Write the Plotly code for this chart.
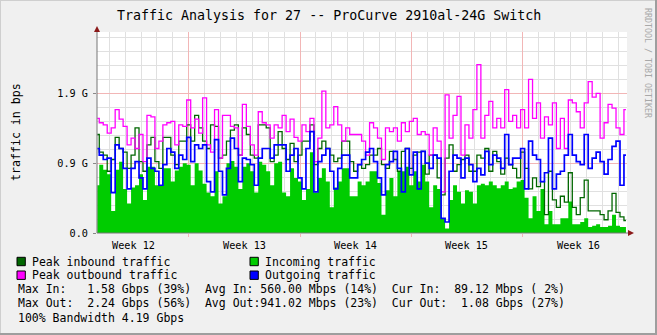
import plotly.graph_objects as go

# ---- data: 6-hourly samples, days counted from the start of week 12 ----
START_DAY = 1.25
STEP_DAYS = 0.25

# incoming traffic (area), Gbps
incoming = [
    0.65, 0.93, 0.86, 0.8, 0.3, 0.86, 0.97, 0.6, 0.4, 0.62, 0.65, 0.8, 0.45, 0.9, 0.9, 0.65, 0.65, 0.88, 0.88, 0.7, 0.85, 0.9, 0.95,
    0.93, 0.65, 0.95, 0.85, 0.67, 0.55, 0.5, 0.84, 0.4, 0.5, 0.95, 0.98, 0.9, 0.6, 0.9, 0.95, 0.84, 0.55, 0.97, 0.93, 0.84, 0.65,
    0.95, 0.97, 0.55, 0.5, 0.88, 0.75, 0.7, 0.45, 0.6, 1.1, 0.55, 0.75, 0.88, 0.7, 0.35, 0.62, 0.7, 0.88, 0.88, 0.5, 0.5, 0.7,
    0.65, 0.7, 0.84, 0.84, 0.68, 0.25, 0.58, 0.75, 0.5, 0.84, 0.84, 0.9, 0.65, 0.84, 0.7, 0.93, 0.7, 0.35, 0.65, 0.6, 0.2, 0.06,
    0.45, 0.65, 0.56, 0.4, 0.58, 0.56, 0.4, 0.65, 0.67, 0.65, 0.7, 0.65, 0.61, 0.65, 0.7, 0.6, 0.62, 0.7, 0.72, 0.48, 0.2, 0.5,
    0.3, 0.6, 0.12, 0.3, 0.12, 0.12, 0.2, 0.2, 0.43, 0.12, 0.12, 0.15, 0.2, 0.08, 0.1, 0.12, 0.08, 0.08, 0.1, 0.25, 0.1, 0.08, 0.08,
]

# outgoing traffic (line), Gbps
outgoing = [
    1.15, 1.06, 1.0, 1.02, 0.55, 1.2, 1.15, 0.88, 0.6, 0.88, 0.97, 0.75, 0.6, 1.02, 0.88, 0.84, 0.65, 0.93, 1.15, 1.1, 0.88, 1.06, 1.0,
    1.3, 0.97, 1.2, 1.15, 1.2, 0.7, 0.56, 1.27, 0.84, 0.52, 0.88, 1.29, 1.15, 0.7, 1.02, 1.0, 0.93, 0.65, 1.02, 1.15, 1.15, 1.02,
    1.2, 1.2, 1.2, 0.84, 1.06, 1.15, 0.75, 0.6, 1.15, 1.38, 0.56, 0.97, 1.06, 1.15, 0.84, 0.6, 0.88, 1.06, 1.06, 0.75, 0.75, 0.93,
    1.0, 1.1, 1.15, 0.97, 0.75, 0.52, 0.93, 0.97, 1.11, 0.88, 0.56, 1.15, 0.79, 1.1, 0.6, 1.11, 0.95, 0.88, 1.06, 1.02, 0.2, 0.15,
    0.84, 1.06, 1.02, 0.75, 1.02, 0.93, 0.7, 0.88, 0.79, 1.11, 0.93, 1.06, 1.02, 0.88, 1.34, 0.93, 1.02, 1.02, 1.15, 0.6, 1.25, 1.06,
    1.0, 0.7, 0.82, 1.29, 0.6, 0.8, 0.84, 1.06, 1.34, 1.06, 0.97, 0.93, 1.34, 0.88, 1.02, 1.1, 0.97, 0.8, 1.0, 1.18, 1.25, 0.65, 1.06,
]

# peak inbound traffic, Gbps
peak_in = [
    1.34, 1.1, 1.06, 0.84, 1.0, 1.3, 1.15, 1.1, 0.88, 1.06, 1.43, 0.97, 0.84, 1.2, 1.3, 0.97, 0.88, 1.3, 1.3, 1.06, 0.93, 1.25, 1.25,
    1.47, 1.25, 1.6, 1.43, 1.25, 1.15, 1.47, 1.45, 1.02, 1.06, 1.25, 1.4, 1.47, 1.06, 1.43, 1.34, 1.06, 1.02, 1.47, 1.47, 1.43, 0.97,
    1.06, 1.38, 1.15, 1.0, 1.22, 0.97, 1.06, 1.25, 1.25, 1.47, 0.93, 1.15, 1.25, 1.15, 1.06, 0.97, 1.02, 1.25, 1.25, 0.97, 0.84, 0.93,
    0.88, 0.93, 1.06, 1.06, 1.15, 0.93, 0.88, 1.11, 1.0, 0.84, 1.11, 1.15, 0.88, 1.06, 1.1, 1.11, 0.8, 1.06, 1.06, 0.75, 0.52, 1.02,
    1.2, 0.84, 0.93, 1.0, 1.06, 0.84, 0.84, 1.06, 1.02, 1.15, 0.84, 1.11, 0.97, 0.8, 1.02, 0.93, 0.88, 0.75, 1.1, 0.88, 0.6, 0.75,
    0.63, 0.7, 0.25, 0.84, 0.45, 0.35, 0.5, 0.42, 0.82, 0.35, 0.25, 0.48, 0.72, 0.3, 0.3, 0.3, 0.25, 0.18, 0.3, 0.54, 0.28, 0.22, 0.17,
]

# peak outbound traffic, Gbps
peak_out = [
    1.56, 1.5, 1.47, 1.36, 1.43, 1.68, 1.55, 1.45, 1.2, 1.29, 1.15, 1.34, 0.97, 1.6, 1.58, 1.15, 1.25, 1.47, 1.5, 1.52, 1.2, 1.47, 1.45,
    1.81, 1.43, 1.55, 1.36, 1.84, 1.2, 1.1, 1.68, 1.02, 1.6, 1.6, 1.45, 1.43, 1.06, 1.75, 1.45, 1.2, 1.06, 1.65, 1.5, 1.47, 1.29,
    1.47, 1.43, 1.6, 1.38, 1.55, 1.3, 1.25, 1.47, 1.38, 1.56, 0.97, 1.29, 1.93, 1.43, 1.47, 1.72, 1.47, 1.25, 1.43, 1.34, 1.34, 1.34,
    1.25, 1.06, 1.5, 1.43, 1.29, 1.0, 1.43, 1.38, 1.43, 1.25, 1.5, 1.38, 1.52, 1.56, 1.34, 1.38, 1.34, 1.06, 1.43, 1.25, 0.56, 1.88,
    1.29, 1.6, 1.86, 1.06, 1.47, 1.29, 1.68, 2.29, 1.29, 1.6, 1.79, 1.43, 1.56, 1.43, 1.95, 1.52, 1.6, 1.43, 1.68, 1.43, 2.09, 1.56,
    1.77, 1.29, 1.58, 1.47, 1.77, 1.15, 1.56, 1.15, 1.81, 1.77, 1.65, 1.43, 1.77, 2.06, 1.85, 1.9, 1.29, 1.5, 1.75, 1.7, 1.43, 1.34, 1.68,
]

days = [START_DAY + STEP_DAYS * i for i in range(len(incoming))]

week_numbers = [12, 13, 14, 15, 16]
week_boundaries = [7, 14, 21, 28]
y_major = [0.0, 0.95, 1.9]
y_major_text = ["0.0", "0.9 G", "1.9 G"]

title = "Traffic Analysis for 27 -- ProCurve 2910al-24G Switch"
legend_rows = [
    "Max In:   1.58 Gbps (39%)  Avg In: 560.00 Mbps (14%)  Cur In:  89.12 Mbps ( 2%)",
    "Max Out:  2.24 Gbps (56%)  Avg Out:941.02 Mbps (23%)  Cur Out:  1.08 Gbps (27%)",
    "100% Bandwidth 4.19 Gbps",
]

# ---- colours ----
C_IN = "#00cc00"
C_OUT = "#0000ff"
C_PEAK_IN = "#006600"
C_PEAK_OUT = "#ff00ff"
GRID = "#e0e0e0"
MGRID = "#f2b6b6"
BACK = "#f0f0f0"
FONT = "DejaVu Sans Mono"

W, H = 657, 335
ML, MR, MT, MB = 97, 30, 32, 102
PW, PH = W - ML - MR, H - MT - MB


def px(x):
    return (x - ML) / PW


def py(y):
    return (H - MB - y) / PH


def nb(s):
    return s.replace(" ", "\u00a0")


fig = go.Figure()
fig.add_trace(go.Scatter(x=days, y=incoming, mode="lines", line=dict(width=0, shape="hvh"),
                         fill="tozeroy", fillcolor=C_IN, hoverinfo="skip"))
fig.add_trace(go.Scatter(x=days, y=peak_in, mode="lines",
                         line=dict(color=C_PEAK_IN, width=1.3, shape="hvh")))
fig.add_trace(go.Scatter(x=days, y=peak_out, mode="lines",
                         line=dict(color=C_PEAK_OUT, width=1.3, shape="hvh")))
fig.add_trace(go.Scatter(x=days, y=outgoing, mode="lines",
                         line=dict(color=C_OUT, width=1.7, shape="hvh")))

x_lo = (ML - 77.4) / 15.9
x_hi = (W - MR - 77.4) / 15.9

fig.update_layout(
    width=W, height=H, showlegend=False,
    margin=dict(l=ML, r=MR, t=MT, b=MB, pad=0),
    paper_bgcolor=BACK, plot_bgcolor="white",
    font=dict(family=FONT, size=10, color="black"),
    xaxis=dict(range=[x_lo, x_hi], tickvals=week_boundaries, showticklabels=False,
               showgrid=True, gridcolor=MGRID, gridwidth=1,
               ticks="outside", ticklen=3, tickcolor=MGRID,
               minor=dict(dtick=1, tick0=0, showgrid=True, gridcolor=GRID, ticks=""),
               zeroline=False, showline=False, fixedrange=True),
    yaxis=dict(range=[0, 2.735], tickvals=y_major, ticktext=y_major_text,
               showgrid=True, gridcolor=MGRID, gridwidth=1,
               ticks="outside", ticklen=3, tickcolor="#888888",
               ticklabelstandoff=3,
               tickfont=dict(family=FONT, size=10.2, color="black"),
               minor=dict(dtick=0.19, tick0=0, showgrid=True, gridcolor=GRID, ticks=""),
               zeroline=False, showline=False, fixedrange=True),
)

shapes = []
# axes with arrows
shapes.append(dict(type="line", xref="paper", yref="paper", x0=px(97), x1=px(97), y0=py(233), y1=py(30),
                   line=dict(color="#777777", width=1)))
shapes.append(dict(type="line", xref="paper", yref="paper", x0=px(97), x1=px(630), y0=py(233), y1=py(233),
                   line=dict(color="#777777", width=1)))
shapes.append(dict(type="path", xref="paper", yref="paper", fillcolor="#8b1a1a", line=dict(width=0),
                   path=f"M {px(94)} {py(32)} L {px(100)} {py(32)} L {px(97)} {py(26)} Z"))
shapes.append(dict(type="path", xref="paper", yref="paper", fillcolor="#8b1a1a", line=dict(width=0),
                   path=f"M {px(628)} {py(230)} L {px(628)} {py(236)} L {px(634)} {py(233)} Z"))
# 3-D frame around the image
shapes.append(dict(type="line", xref="paper", yref="paper", x0=px(0), x1=px(W), y0=py(0.5), y1=py(0.5),
                   line=dict(color="#cfcfcf", width=1)))
shapes.append(dict(type="line", xref="paper", yref="paper", x0=px(0.5), x1=px(0.5), y0=py(0), y1=py(H),
                   line=dict(color="#cfcfcf", width=1)))
shapes.append(dict(type="line", xref="paper", yref="paper", x0=px(0), x1=px(W), y0=py(H - 1), y1=py(H - 1),
                   line=dict(color="#9e9e9e", width=2)))
shapes.append(dict(type="line", xref="paper", yref="paper", x0=px(W - 1), x1=px(W - 1), y0=py(0), y1=py(H),
                   line=dict(color="#9e9e9e", width=2)))

annotations = []


def text(x, y, s, size, xanchor="left", color="black", angle=0):
    annotations.append(dict(xref="paper", yref="paper", x=px(x), y=py(y), text=nb(s),
                            showarrow=False, xanchor=xanchor, yanchor="middle", textangle=angle,
                            borderpad=0, font=dict(family=FONT, size=size, color=color)))


text(329, 16, title, 13.3, xanchor="center")
text(16, 132, "traffic in bps", 11.6, xanchor="center", angle=-90)
text(648, 63, "RRDTOOL / TOBI OETIKER", 8.3, xanchor="center", color="#a8a8a8", angle=90)

# week labels on the time axis (centred in each week)
for k, wk in enumerate(week_numbers):
    annotations.append(dict(xref="x", yref="paper", x=3.5 + 7 * k, y=py(245), text=nb(f"Week {wk}"),
                            showarrow=False, xanchor="center", yanchor="middle", borderpad=0,
                            font=dict(family=FONT, size=10.2, color="black")))

# legend swatches and labels
legend_items = [
    (17, 261.5, C_PEAK_IN, "Peak inbound traffic"),
    (250, 261.5, C_IN, "Incoming traffic"),
    (17, 275.2, C_PEAK_OUT, "Peak outbound traffic"),
    (250, 275.2, C_OUT, "Outgoing traffic"),
]
for x0, yc, col, label in legend_items:
    shapes.append(dict(type="rect", xref="paper", yref="paper", x0=px(x0), x1=px(x0 + 8.3),
                       y0=py(yc + 4.2), y1=py(yc - 4.2), fillcolor=col, line=dict(color="black", width=1)))
    text(x0 + 13.7, yc, label, 11.5)

for row, s in enumerate(legend_rows):
    text(16.5, 289.3 + 14.1 * row, s, 11.5)

fig.update_layout(shapes=shapes, annotations=annotations)
fig.write_html("out.html")
